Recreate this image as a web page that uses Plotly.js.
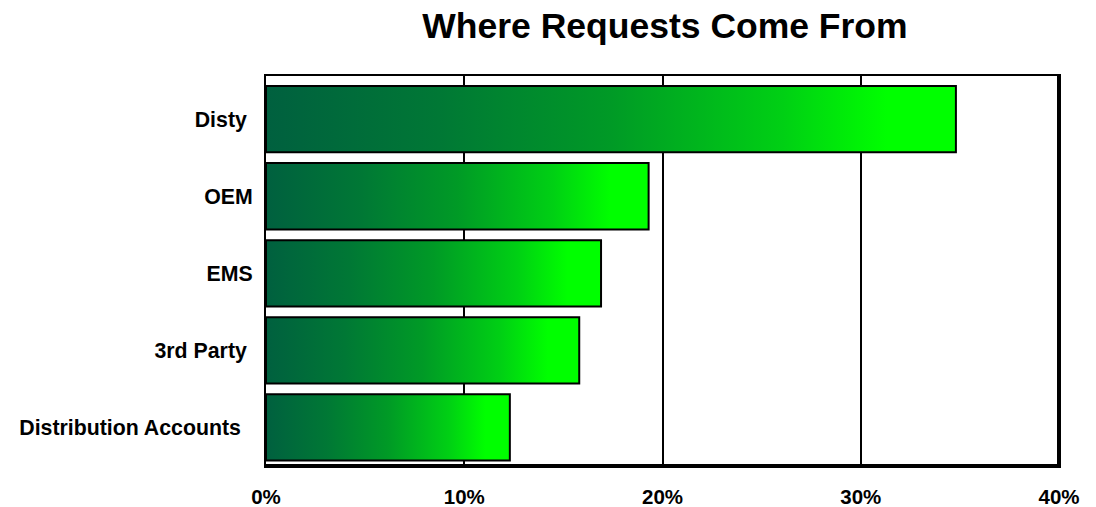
<!DOCTYPE html>
<html>
<head>
<meta charset="utf-8">
<script src="https://cdn.plot.ly/plotly-3.0.1.min.js"></script>
<style>html,body{margin:0;padding:0;background:#fff;}#chart{width:1096px;height:507px;}</style>
</head>
<body>
<div id="chart"></div>
<script>
const categories = ["Disty", "OEM", "EMS", "3rd Party", "Distribution Accounts"];
const tickLabels = ["Disty\u00a0", "OEM", "EMS", "3rd Party\u00a0", "Distribution Accounts\u00a0\u00a0"];
const shares = [34.8, 19.3, 16.9, 15.8, 12.3];
const xTickVals = [0, 10, 20, 30, 40];
const xTickText = ["0%", "10%", "20%", "30%", "40%"];

const halfHeight = 0.43;
const gradient = [[0, '#00603f'], [0.25, '#007835'], [0.5, '#009a26'], [0.75, '#00d014'], [0.9, '#00ff00'], [1, '#00ff00']];

const traces = categories.map((c, i) => ({
  type: 'scatter',
  mode: 'lines',
  name: c,
  x: [0, shares[i], shares[i], 0, 0],
  y: [i - halfHeight, i - halfHeight, i + halfHeight, i + halfHeight, i - halfHeight],
  fill: 'toself',
  fillgradient: {type: 'horizontal', colorscale: gradient},
  line: {color: '#000', width: 2},
  hoverinfo: 'skip',
  showlegend: false
}));

const font = {family: 'Liberation Sans, Arial, sans-serif', color: '#000'};

const layout = {
  width: 1096, height: 507,
  paper_bgcolor: '#fff', plot_bgcolor: '#fff',
  margin: {l: 266, r: 37, t: 76, b: 41},
  title: {
    text: '<b>Where Requests Come From</b>',
    font: Object.assign({}, font, {size: 35.5}),
    x: 665 / 1096, xref: 'container', xanchor: 'center',
    y: 1 - 13 / 507, yref: 'container', yanchor: 'top'
  },
  xaxis: {
    range: [0, 40],
    tickvals: xTickVals, ticktext: xTickText.map(t => '<b>' + t + '</b>'),
    tickfont: Object.assign({}, font, {size: 20.5}),
    showgrid: true, gridcolor: '#000', gridwidth: 2,
    zeroline: false,
    showline: true, linecolor: '#000', linewidth: 2, mirror: true,
    ticks: '', ticklabelstandoff: 11,
    fixedrange: true
  },
  yaxis: {
    range: [4.5, -0.56],
    tickvals: categories.map((c, i) => i),
    ticktext: tickLabels.map(t => '<b>' + t + '</b>'),
    tickfont: Object.assign({}, font, {size: 21.3}),
    showgrid: false, zeroline: false,
    showline: true, linecolor: '#000', linewidth: 2, mirror: true,
    ticks: '', ticklabelstandoff: 7,
    fixedrange: true
  },
  shapes: [
    {type: 'line', xref: 'paper', yref: 'paper', x0: 1, x1: 1, y0: 0, y1: 1, line: {color: '#000', width: 4}, layer: 'above'},
    {type: 'line', xref: 'paper', yref: 'paper', x0: 0, x1: 1, y0: 0, y1: 0, line: {color: '#000', width: 4}, layer: 'above'}
  ]
};

Plotly.newPlot('chart', traces, layout, {displayModeBar: false, staticPlot: true});
</script>
</body>
</html>
